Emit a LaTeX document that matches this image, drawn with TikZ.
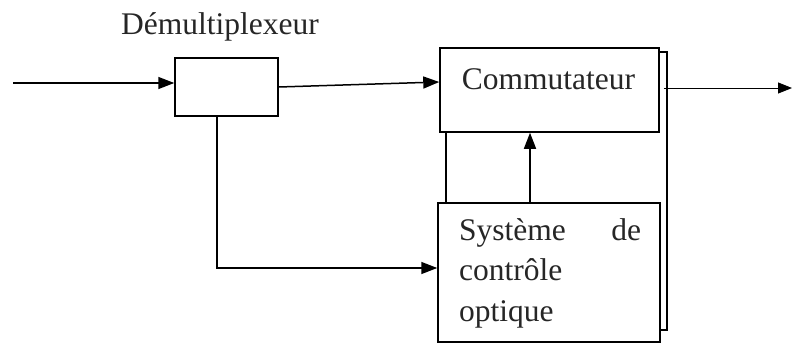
\documentclass[tikz,border=0pt]{standalone}
\usepackage{fontspec}
\setmainfont{Liberation Serif}
\usetikzlibrary{arrows.meta, calc, positioning}

\begin{document}
\begin{tikzpicture}[x=1pt, y=-1pt,
    bloc/.style={draw=black, fill=white, line width=1.5pt, inner sep=0pt},
    fleche/.style={-{Triangle[length=16pt, width=12pt]}, line width=1.5pt},
    flecheFine/.style={-{Triangle[length=14pt, width=11pt]}, line width=0.9pt},
    texte/.style={font=\fontsize{31.5}{40.5}\selectfont, text=black!85, inner sep=0pt}]
    \useasboundingbox (0,0) rectangle (792,345);

    % CADRE ARRIERE (commutateur + controle)
    \draw[line width=1.5pt] (446,52) rectangle (667,330);

    % BLOCS
    % Demultiplexeur
    \node[bloc, minimum width=103pt, minimum height=58pt] (demux) at (226.5,87) {};
    \node[texte, anchor=base] (titreDemux) at (220,35) {Démultiplexeur};

    % Commutateur
    \node[bloc, minimum width=219pt, minimum height=84pt] (comm) at (549.5,90) {};
    \node[texte, anchor=base] (titreComm) at ($(comm.north)+(-1,42)$) {Commutateur};

    % Systeme de controle optique
    \node[bloc, minimum width=222pt, minimum height=139pt] (sys) at (549,272.5) {};
    \node[texte, anchor=base west, text width=182pt] (titreSys) at (459,240)
        {Système\hfill de\\contrôle\\optique};

    % LIAISONS
    \coordinate (entree) at (13,83);
    \coordinate (sortie) at (792,88);

    \draw[fleche] (entree) -- ([yshift=4pt]demux.west);
    \draw[fleche] (demux.east) -- ([yshift=8pt]comm.west);
    \draw[fleche] ([xshift=-9.5pt]demux.south) |- ([yshift=4.5pt]sys.west);
    \draw[fleche] ([xshift=-19pt]sys.north) -- ([xshift=-19.5pt]comm.south);
    \draw[flecheFine] ([xshift=4pt, yshift=2pt]comm.east) -- (sortie);
\end{tikzpicture}
\end{document}
